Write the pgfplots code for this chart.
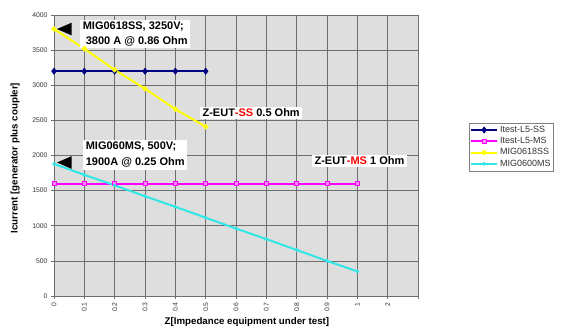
\documentclass[border=0pt]{standalone}
\usepackage{pgfplots}
\pgfplotsset{compat=1.18}
\usepackage{fontspec}
\setmainfont{Liberation Sans}
\definecolor{navyc}{HTML}{000080}
\definecolor{magc}{HTML}{FF00FF}
\definecolor{yelc}{HTML}{FFFF00}
\definecolor{cyac}{HTML}{33E6E6}
\definecolor{bgc}{HTML}{DEDEDE}
\definecolor{gridc}{HTML}{6E6E6E}
\begin{document}
\begin{tikzpicture}
\begin{axis}[
  scale only axis, width=364pt, height=281pt,
  xmin=0, xmax=12, ymin=0, ymax=4000,
  xtick={0,...,12},
  xticklabels={0,0.1,0.2,0.3,0.4,0.5,0.6,0.7,0.8,0.9,1,2,{}},
  ytick={0,500,...,4000},
  grid=major,
  major grid style={draw=gridc, line width=0.5pt},
  axis background/.style={fill=bgc},
  axis line style={draw=gridc, line width=0.6pt},
  tick align=outside, major tick length=3pt,
  tick style={draw=gridc, line width=0.5pt},
  tick pos=left,
  x tick label style={rotate=90, anchor=east, font=\fontsize{6.8}{7}\selectfont, text=black!80},
  y tick label style={font=\fontsize{6.8}{7}\selectfont, text=black!80},
  /pgf/number format/assume math mode=true,
  /pgf/number format/1000 sep={},
  xlabel={Z[Impedance equipment under test]},
  ylabel={Icurrent [generator plus coupler]},
  xlabel style={at={(axis description cs:0.53,-0.0925)}, anchor=center, font=\fontsize{9.7}{11}\selectfont\bfseries},
  ylabel style={at={(axis description cs:-0.107,0.491)}, anchor=center, font=\fontsize{9.7}{11}\selectfont\bfseries},
  clip=false,
  legend style={at={(1.14,0.616)}, anchor=north west, draw=gray, fill=white,
    font=\fontsize{9}{10}\selectfont, text=black!80, inner xsep=1pt, inner ysep=1pt, row sep=-0.5pt,
    cells={anchor=west}},
  legend image code/.code={\draw[mark repeat=2,mark phase=2,#1] plot coordinates {(0pt,0pt) (13pt,0pt) (26pt,0pt)};},
]
\addplot[navyc, line width=2pt, mark=diamond*, mark size=2pt] coordinates {
(0,3200) (1,3200) (2,3200) (3,3200) (4,3200) (5,3200)};
\addlegendentry{Itest-L5-SS}
\addplot[magc, line width=2pt, mark=square*, mark size=2pt, mark options={fill=magc!45, draw=magc, line width=0.8pt}] coordinates {
(0,1600) (1,1600) (2,1600) (3,1600) (4,1600) (5,1600) (6,1600) (7,1600) (8,1600) (9,1600) (10,1600)};
\addlegendentry{Itest-L5-MS}
\addplot[yelc, line width=2pt, mark=*, mark size=1.5pt] coordinates {
(0,3800) (1,3520) (2,3220) (3,2950) (4,2660) (5,2410)};
\addlegendentry{MIG0618SS}
\addplot[cyac, line width=2pt, mark=x, mark size=1.5pt] coordinates {
(0,1880) (1,1725) (2,1575) (3,1420) (4,1270) (5,1115) (6,960) (7,810) (8,655) (9,500) (10,350)};
\addlegendentry{MIG0600MS}

\coordinate (sw) at (rel axis cs:0,0);
\coordinate (ne) at (rel axis cs:1,1);

\fill[black] (axis cs:0.1,3800) -- (axis cs:0.58,3890) -- (axis cs:0.58,3710) -- cycle;
\fill[black] (axis cs:0.1,1900) -- (axis cs:0.58,1990) -- (axis cs:0.58,1810) -- cycle;

\node[fill=white, anchor=west, align=left, inner xsep=2.5pt, inner ysep=2pt,
  font=\fontsize{11}{15}\selectfont\bfseries] at (axis cs:0.86,3730)
  {MIG0618SS, 3250V;\\\hspace*{3pt}3800 A @ 0.86 Ohm};
\node[fill=white, anchor=west, align=left, inner xsep=2.5pt, inner ysep=2pt,
  font=\fontsize{11}{16}\selectfont\bfseries] at (axis cs:0.96,2007)
  {MIG060MS, 500V;\\1900A @ 0.25 Ohm};
\node[fill=white, anchor=west, inner xsep=2.5pt, inner ysep=1.5pt,
  font=\fontsize{11}{13}\selectfont\bfseries] at (axis cs:4.81,2605)
  {Z-EUT\textcolor{red}{-SS} 0.5 Ohm};
\node[fill=white, anchor=west, inner xsep=2.5pt, inner ysep=1.5pt,
  font=\fontsize{11}{13}\selectfont\bfseries] at (axis cs:8.5,1922)
  {Z-EUT\textcolor{red}{-MS} 1 Ohm};
\end{axis}
\pgfresetboundingbox
\path[use as bounding box] ([shift={(-54pt,-38pt)}]sw) rectangle ([shift={(143pt,15pt)}]ne);
\end{tikzpicture}
\end{document}
